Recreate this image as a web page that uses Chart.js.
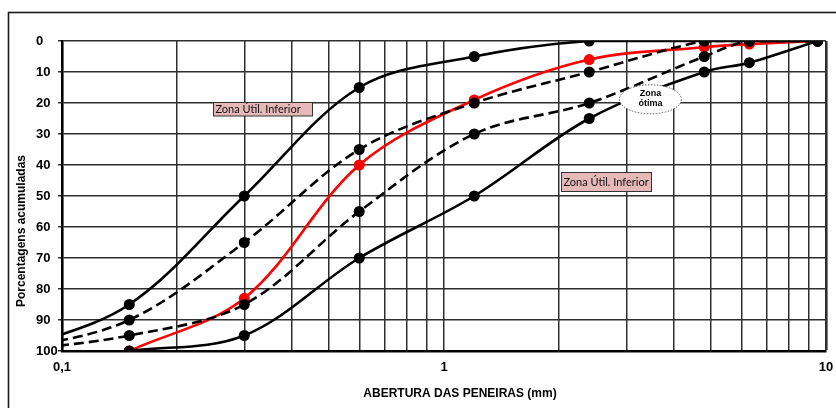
<!DOCTYPE html>
<html>
<head>
<meta charset="utf-8">
<script src="https://cdn.jsdelivr.net/npm/chart.js@4/dist/chart.umd.min.js"></script>
<style>
  html, body { margin: 0; padding: 0; background: #fff; }
  #wrap { width: 836px; height: 408px; }
</style>
</head>
<body>
<div id="wrap"><canvas id="c" width="836" height="408"></canvas></div>
<script>
// Sieve openings (mm) and cumulative retained percentages
const sieves = [0.075, 0.15, 0.3, 0.6, 1.2, 2.4, 4.8, 6.3, 9.5];
const limiteUtilInferior  = [100, 85, 50, 15, 5, 0, 0, 0, 0];
const limiteOtimoInferior = [100, 90, 65, 35, 20, 10, 0, 0, 0];
const limiteOtimoSuperior = [100, 95, 85, 55, 30, 20, 5, 0, 0];
const limiteUtilSuperior  = [null, 100, 95, 70, 50, 25, 10, 7, 0];
const amostra             = [null, 100, 83, 40, 19, 6, 2, 1, 0];

// Axis ticks
const gridValues = [0.1,0.2,0.3,0.4,0.5,0.6,0.7,0.8,0.9,1,2,3,4,5,6,7,8,9,10];
const xLabelValues = [0.1, 1, 10];
const xLabelTexts = ['0,1', '1', '10'];

const toPoints = arr => sieves.map((s, i) => ({ x: s, y: arr[i] }));
const radius = ctx => (sieves[ctx.dataIndex] < 0.1 ? 0 : 5.5);

function serie(values, color, dashed) {
  return {
    data: toPoints(values),
    borderColor: color,
    backgroundColor: color,
    pointBackgroundColor: color,
    pointBorderWidth: 0,
    pointRadius: radius,
    borderWidth: 2.6,
    borderDash: dashed ? [10, 5] : [],
    tension: 0.34,
    spanGaps: false,
    fill: false
  };
}

const decor = {
  id: 'decor',
  beforeDraw(chart) {
    const ctx = chart.ctx;
    ctx.save();
    ctx.fillStyle = '#fff';
    ctx.fillRect(0, 0, chart.width, chart.height);
    ctx.strokeStyle = '#1a1a1a';
    ctx.lineWidth = 1.6;
    ctx.strokeRect(8.5, 12.5, 900, 500);
    ctx.restore();
  },
  afterDatasetsDraw(chart) {
    const ctx = chart.ctx;
    const xs = chart.scales.x, ys = chart.scales.y;
    ctx.save();

    // labelled boxes
    const boxes = [
      { x: 0.248, y: 19.7, w: 99, h: 13.5 },
      { x: 2.03, y: 42.4, w: 90, h: 19 }
    ];
    ctx.font = '11px Lato, "Liberation Sans", sans-serif';
    ctx.textBaseline = 'middle';
    ctx.textAlign = 'left';
    boxes.forEach(b => {
      const px = Math.round(xs.getPixelForValue(b.x)) + 0.5;
      const py = Math.round(ys.getPixelForValue(b.y)) + 0.5;
      ctx.fillStyle = '#e6b9b8';
      ctx.fillRect(px, py, b.w, b.h);
      ctx.strokeStyle = '#333';
      ctx.lineWidth = 1;
      ctx.strokeRect(px, py, b.w, b.h);
      ctx.fillStyle = '#111';
      ctx.fillText('Zona Útil. Inferior', px + 2, py + b.h / 2 + 0.5);
    });

    // ellipse
    const cx = xs.getPixelForValue(3.47), cy = ys.getPixelForValue(18.8);
    ctx.beginPath();
    ctx.ellipse(cx, cy, 31, 14.5, 0, 0, Math.PI * 2);
    ctx.fillStyle = '#fff';
    ctx.fill();
    ctx.setLineDash([1.5, 1.5]);
    ctx.strokeStyle = '#555';
    ctx.lineWidth = 1;
    ctx.stroke();
    ctx.setLineDash([]);
    ctx.fillStyle = '#000';
    ctx.font = 'bold 9px "Liberation Sans", Arial, sans-serif';
    ctx.textAlign = 'center';
    ctx.fillText('Zona', cx, cy - 6);
    ctx.fillText('ótima', cx, cy + 4);

    // axis titles
    ctx.font = 'bold 12px "Liberation Sans", Arial, sans-serif';
    ctx.fillStyle = '#000';
    ctx.fillText('ABERTURA DAS PENEIRAS (mm)', 460, 394);
    ctx.translate(21.5, 231);
    ctx.rotate(-Math.PI / 2);
    ctx.fillText('Porcentagens acumuladas', 0, 0);
    ctx.restore();
  }
};

new Chart(document.getElementById('c'), {
  type: 'line',
  data: {
    datasets: [
      serie(limiteUtilInferior, '#000', false),
      serie(limiteOtimoInferior, '#000', true),
      serie(limiteOtimoSuperior, '#000', true),
      serie(limiteUtilSuperior, '#000', false),
      serie(amostra, '#ff0000', false)
    ]
  },
  options: {
    responsive: false,
    animation: false,
    layout: { padding: { left: 36, right: 10, top: 41, bottom: 0 } },
    plugins: { legend: { display: false }, tooltip: { enabled: false } },
    scales: {
      x: {
        type: 'logarithmic',
        min: 0.1,
        max: 10,
        afterBuildTicks(scale) { scale.ticks = gridValues.map(v => ({ value: v })); },
        afterFit(scale) { scale.height = 57; scale.paddingLeft = 0; scale.paddingRight = 0; },
        ticks: {
          autoSkip: false,
          maxRotation: 0,
          padding: 9,
          color: '#000',
          font: { family: '"Liberation Sans", Arial, sans-serif', size: 13, weight: 'bold' },
          callback(value) {
            const i = xLabelValues.findIndex(v => Math.abs(v - value) < 1e-9);
            return i >= 0 ? xLabelTexts[i] : '';
          }
        },
        grid: {
          drawTicks: false,
          color: '#2e2e2e',
          lineWidth: ctx => (ctx.tick && Math.abs(ctx.tick.value - 10) < 1e-9 ? 2.6 : 1.5)
        },
        border: { display: true, color: '#000', width: 2.6 }
      },
      y: {
        type: 'linear',
        reverse: true,
        min: 0,
        max: 100,
        afterFit(scale) { scale.width = 26; scale.paddingTop = 0; scale.paddingBottom = 0; },
        ticks: {
          stepSize: 10,
          crossAlign: 'far',
          color: '#000',
          font: { family: '"Liberation Sans", Arial, sans-serif', size: 13, weight: 'bold' }
        },
        grid: { drawTicks: true, tickLength: 4, color: '#2e2e2e', lineWidth: 1.5 },
        border: { display: true, color: '#000', width: 2.6 }
      }
    }
  },
  plugins: [decor]
});
</script>
</body>
</html>
